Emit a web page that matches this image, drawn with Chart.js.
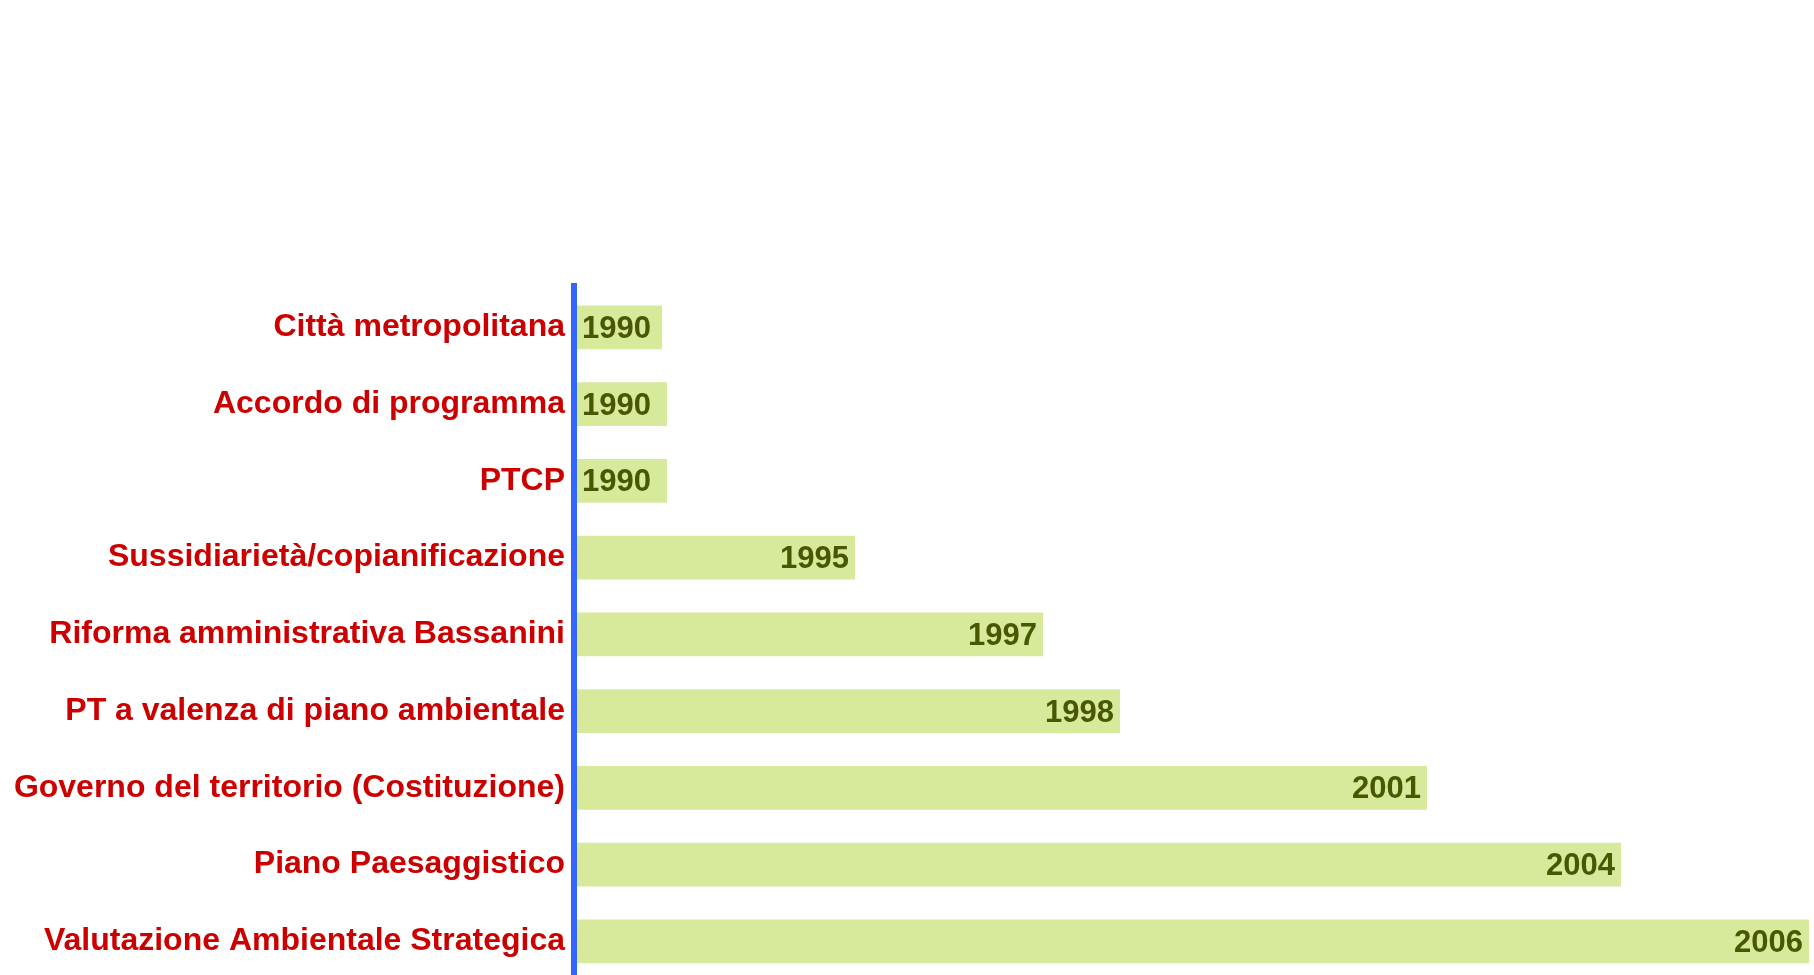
<!DOCTYPE html>
<html>
<head>
<meta charset="utf-8">
<script src="https://cdn.jsdelivr.net/npm/chart.js@4"></script>
<style>
  html, body { margin: 0; padding: 0; background: #ffffff; overflow: hidden; }
  #wrap { position: relative; width: 1814px; height: 1005px; }
</style>
</head>
<body>
<div id="wrap"><canvas id="c"></canvas></div>
<script>
// Categories (top to bottom)
const categories = [
  'Città metropolitana',
  'Accordo di programma',
  'PTCP',
  'Sussidiarietà/copianificazione',
  'Riforma amministrativa Bassanini',
  'PT a valenza di piano ambientale',
  'Governo del territorio (Costituzione)',
  'Piano Paesaggistico',
  'Valutazione Ambientale Strategica'
];
// Year shown on each bar
const years = [1990, 1990, 1990, 1995, 1997, 1998, 2001, 2004, 2006];
// Bar lengths (relative units)
const barLengths = [91, 96, 96, 284, 472, 549, 856, 1050, 1238];
const axisMax = 1243;

const FONT = '"Liberation Sans", Arial, sans-serif';

const overlayPlugin = {
  id: 'overlay',
  afterDatasetsDraw(chart) {
    const ctx = chart.ctx;
    const area = chart.chartArea;
    // vertical axis line
    ctx.save();
    ctx.fillStyle = '#3366ff';
    ctx.fillRect(area.left, area.top - 6, 6, area.bottom - area.top + 6);
    // value labels
    const meta = chart.getDatasetMeta(0);
    ctx.font = 'bold 31px ' + FONT;
    ctx.fillStyle = '#485800';
    ctx.textBaseline = 'middle';
    meta.data.forEach((bar, i) => {
      const txt = String(years[i]);
      const len = bar.x - bar.base;
      if (len < 120) {
        ctx.textAlign = 'left';
        ctx.fillText(txt, bar.base + 11, bar.y + 2);
      } else {
        ctx.textAlign = 'right';
        ctx.fillText(txt, bar.x - 6, bar.y + 2);
      }
    });
    ctx.restore();
  }
};

new Chart(document.getElementById('c'), {
  type: 'bar',
  data: {
    labels: categories,
    datasets: [{
      data: barLengths,
      backgroundColor: 'rgb(215,233,155)',
      borderWidth: 0,
      barPercentage: 0.57,
      categoryPercentage: 1.0
    }]
  },
  options: {
    indexAxis: 'y',
    responsive: true,
    maintainAspectRatio: false,
    animation: false,
    layout: { padding: { top: 289, right: 0, bottom: 0, left: 0 } },
    plugins: {
      legend: { display: false },
      tooltip: { enabled: false },
      title: { display: false }
    },
    scales: {
      x: {
        display: false,
        min: 0,
        max: axisMax
      },
      y: {
        position: 'left',
        grid: { display: false, drawTicks: false },
        border: { display: false },
        ticks: {
          color: '#cc0000',
          padding: 6,
          font: { family: FONT, size: 32, weight: 'bold' }
        },
        afterFit(scale) { scale.width = 571; }
      }
    }
  },
  plugins: [overlayPlugin]
});
</script>
</body>
</html>
